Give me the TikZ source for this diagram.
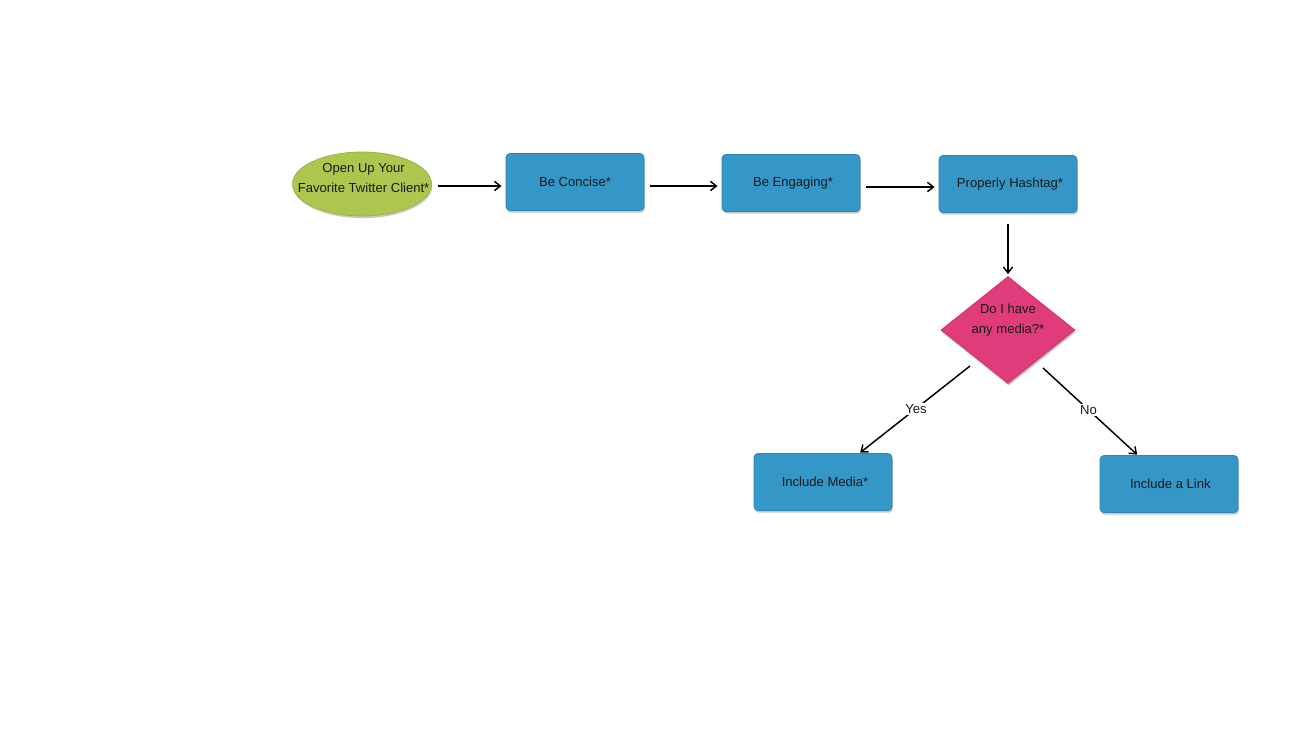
\documentclass[tikz,border=0pt]{standalone}
\usepackage{fontspec}
\setmainfont{Liberation Sans}
\usetikzlibrary{shapes.geometric,arrows.meta,shadows}
\definecolor{boxblue}{HTML}{3597C8}
\definecolor{boxblueb}{HTML}{2A86B8}
\definecolor{ovgreen}{HTML}{ADC64F}
\definecolor{ovgreenb}{HTML}{9DB640}
\definecolor{dpink}{HTML}{E03B7A}
\definecolor{dpinkb}{HTML}{D0346D}
\definecolor{txt}{HTML}{1A1A1A}
\tikzset{
  lbl/.style={font=\fontsize{9.8}{15}\selectfont, text=txt},
  shd/.style={drop shadow={shadow xshift=0.6pt, shadow yshift=-1.6pt, opacity=0.22, fill=black}},
  boxnode/.style={rectangle, rounded corners=3pt, fill=boxblue, draw=boxblueb, line width=0.6pt,
    minimum width=103.5pt, minimum height=42.75pt, inner sep=0pt, lbl, align=center, shd},
  ovnode/.style={ellipse, fill=ovgreen, draw=ovgreenb, line width=0.6pt,
    minimum width=104.25pt, minimum height=48pt, inner sep=0pt, shd},
  dianode/.style={diamond, fill=dpink, draw=dpinkb, line width=0.6pt, aspect=1.25,
    minimum width=100.5pt, minimum height=80.25pt, inner sep=0pt, shd},
  arr/.style={draw=black, line width=1.1pt, -{Straight Barb[length=4.5pt,width=7pt,line width=1.1pt]}},
  edgelbl/.style={lbl, fill=white, inner sep=1pt}
}
\begin{document}
\begin{tikzpicture}[x=0.75pt,y=-0.75pt]
\useasboundingbox (0,0) rectangle (1300,750);

\node[ovnode, label={[lbl, align=center, xshift=1.2pt, yshift=4.5pt]center:Open Up Your\\Favorite Twitter Client*}] (open) at (362,184) {};
\node[boxnode] (concise) at (575,182) {Be Concise*};
\node[boxnode] (engage) at (791,183) {\hspace*{3pt}Be Engaging*};
\node[boxnode] (hash) at (1008,184) {\hspace*{3pt}Properly Hashtag*};
\node[dianode, label={[lbl, align=center, yshift=7.5pt]center:Do I have\\any media?*}] (media) at (1008,330) {};
\node[boxnode] (incmedia) at (823,482) {\hspace*{3pt}Include Media*};
\node[boxnode] (inclink) at (1169,484) {\hspace*{2pt}Include a Link};

\coordinate (yesstart) at (970,366);
\coordinate (nostart) at (1043,368);

\draw[arr, shorten <=4.5pt, shorten >=3pt] (open.east |- 0,186) -- (concise.west |- 0,186);
\draw[arr, shorten <=4.5pt, shorten >=3pt] (concise.east |- 0,186) -- (engage.west |- 0,186);
\draw[arr, shorten <=4.5pt, shorten >=3pt] (engage.east |- 0,187) -- (hash.west |- 0,187);
\draw[arr, shorten <=8pt, shorten >=1.5pt] (hash.south) -- (media.north);
\draw[arr, shorten >=0.5pt] (yesstart) -- (incmedia) node[edgelbl, pos=0.49] {Yes};
\draw[arr, shorten >=0.5pt] (nostart) -- (inclink) node[edgelbl, pos=0.48] {No};
\end{tikzpicture}
\end{document}
